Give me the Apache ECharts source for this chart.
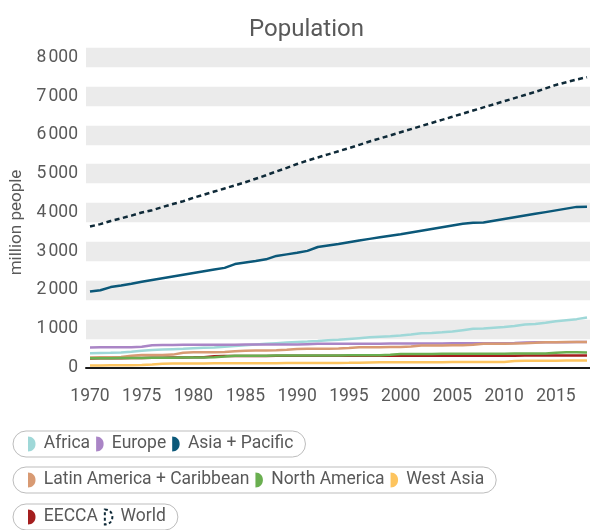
<!DOCTYPE html>
<html><head><meta charset="utf-8">
<script src="https://cdn.jsdelivr.net/npm/echarts@6/dist/echarts.min.js"></script>
<style>html,body{margin:0;padding:0;background:#fff}#c{width:590px;height:530px}</style>
</head><body><div id="c"></div>
<script>
const years = [1970,1971,1972,1973,1974,1975,1976,1977,1978,1979,1980,1981,1982,1983,1984,1985,1986,1987,1988,1989,1990,1991,1992,1993,1994,1995,1996,1997,1998,1999,2000,2001,2002,2003,2004,2005,2006,2007,2008,2009,2010,2011,2012,2013,2014,2015,2016,2017,2018];
const xTickYears = [1970,1975,1980,1985,1990,1995,2000,2005,2010,2015];
const yTicks = [0,1000,2000,3000,4000,5000,6000,7000,8000];

const africa = [370,375,380,390,410,435,455,465,475,485,500,510,520,535,555,575,595,615,630,645,660,670,685,705,720,740,760,780,795,810,830,855,885,895,910,930,965,1000,1010,1030,1049,1070,1110,1125,1155,1195,1224,1250,1294];
const europe = [520,522,524,526,528,535,575,585,586,587,588,589,590,591,592,593,594,595,596,597,598,605,612,613,614,615,616,617,618,619,620,621,622,623,624,625,626,627,628,629,630,635,650,652,654,655,656,657,658];
const asiaPacific = [1962,1996,2076,2120,2165,2215,2260,2305,2350,2395,2440,2485,2530,2572,2670,2710,2750,2792,2880,2920,2960,3010,3110,3150,3190,3235,3280,3320,3360,3400,3440,3485,3530,3575,3620,3665,3710,3735,3740,3785,3830,3875,3920,3965,4010,4055,4100,4145,4150];
const latinAmerica = [262,265,268,275,305,323,325,327,335,385,393,396,399,402,420,437,440,443,446,460,481,483,485,487,490,505,524,526,528,530,532,545,568,570,572,574,576,590,612,614,616,620,625,640,656,656,658,658,660];
const northAmerica = [240,242,244,246,248,250,252,254,256,258,260,262,265,285,306,306,307,308,309,310,311,312,313,314,315,316,317,318,318,330,350,351,352,353,354,355,356,357,358,359,360,361,362,362,363,385,393,393,390];
const westAsia = [55,57,59,61,63,66,80,100,105,106,107,108,109,110,111,112,113,114,115,116,117,118,119,120,121,122,125,130,135,136,137,138,139,140,141,142,143,144,145,146,147,170,175,176,177,178,180,182,185];
const eecca = [235,238,241,244,247,250,253,256,259,262,265,270,290,300,301,301,302,302,303,303,304,304,304,305,305,305,305,306,306,306,306,306,307,307,307,307,307,308,308,308,308,308,309,309,309,309,310,310,310];
const world = [3640,3700,3780,3850,3920,4000,4060,4140,4220,4290,4380,4460,4540,4620,4700,4780,4870,4960,5060,5150,5250,5340,5420,5500,5580,5660,5745,5830,5910,5990,6070,6150,6230,6310,6390,6470,6550,6630,6710,6790,6870,6950,7030,7110,7200,7290,7360,7430,7490];

const colors = {
  'Africa':'#9fd8d8','Europe':'#aa85c6','Asia + Pacific':'#0b5879',
  'Latin America + Caribbean':'#d89a73','North America':'#6aaf50',
  'West Asia':'#fdc45e','EECCA':'#a41e1e','World':'#0f2a38'
};
const values = {
  'Africa':africa,'Europe':europe,'Asia + Pacific':asiaPacific,
  'Latin America + Caribbean':latinAmerica,'North America':northAmerica,
  'West Asia':westAsia,'EECCA':eecca,'World':world
};
// drawing order (EECCA beneath North America)
const drawOrder = ['EECCA','Africa','Europe','Latin America + Caribbean','North America','West Asia','Asia + Pacific','World'];

const legendRows = [
  ['Africa','Europe','Asia + Pacific'],
  ['Latin America + Caribbean','North America','West Asia'],
  ['EECCA','World']
];
const legendTops = [431, 467, 504];

const icon = 'path://M0,0 C5,0 8,3.5 8,8 C8,12.5 5,16 0,16 Z';
const textColor = '#595959';
const font = 'Roboto';

function fmt(v){
  if (v >= 1000) return Math.floor(v/1000) + '\u202F' + String(v % 1000).padStart(3,'0');
  return String(v);
}

const series = drawOrder.map(n => ({
  name: n, type: 'line',
  data: years.map((y,i) => [y, values[n][i]]),
  showSymbol: false, symbol: 'none',
  color: colors[n],
  lineStyle: { color: colors[n], width: 2.5, type: n === 'World' ? [5, 3.5] : 'solid' },
  itemStyle: { color: colors[n] },
  emphasis: { disabled: true },
  animation: false
}));

const legends = legendRows.map((row, k) => ({
  left: 13, top: legendTops[k],
  orient: 'horizontal',
  icon: icon,
  itemWidth: 14, itemHeight: 15, itemGap: 6,
  padding: [4, 12, 4, 15],
  borderColor: '#bdbdbd', borderWidth: 1, borderRadius: 14,
  textStyle: { fontSize: 17.5, color: textColor, fontFamily: font },
  selectedMode: false,
  data: row.map(n => n === 'World'
    ? { name: n, itemStyle: { color: '#ffffff', borderColor: colors[n], borderWidth: 2, borderType: [3, 2.5] } }
    : { name: n, itemStyle: { color: colors[n], borderWidth: 0 } })
}));

const chart = echarts.init(document.getElementById('c'), null, { renderer: 'canvas' });
chart.setOption({
  animation: false,
  backgroundColor: '#ffffff',
  textStyle: { fontFamily: font },
  title: {
    text: 'Population', left: 249, top: 18, padding: 0,
    textStyle: { fontSize: 24, fontWeight: 'normal', color: textColor, fontFamily: font }
  },
  legend: legends,
  grid: { left: 86, right: 0, top: 57.4, bottom: 162.4, containLabel: false },
  xAxis: {
    type: 'value', min: 1969.614, max: 2018.29,
    axisLine: { show: true, lineStyle: { color: '#1a1a1a', width: 2 } },
    axisTick: { show: false },
    splitLine: { show: false },
    axisLabel: {
      customValues: xTickYears, color: textColor, fontSize: 17.5, margin: 20, fontFamily: font,
      formatter: v => String(v)
    }
  },
  yAxis: {
    type: 'value', min: yTicks[0], max: yTicks[yTicks.length-1], interval: 1000,
    name: 'million people', nameLocation: 'middle', nameGap: 58,
    nameTextStyle: { fontSize: 17, color: textColor, fontFamily: font, padding: [0, 20, 0, 0] },
    axisLine: { show: false }, axisTick: { show: false },
    axisLabel: { color: textColor, fontSize: 17.5, margin: 8, fontFamily: font, formatter: fmt, padding: [8, 0, 0, 0] },
    splitLine: { show: true, showMinLine: false, lineStyle: { color: '#ebebeb', width: 19.4 } }
  },
  series: series
});
</script></body></html>
